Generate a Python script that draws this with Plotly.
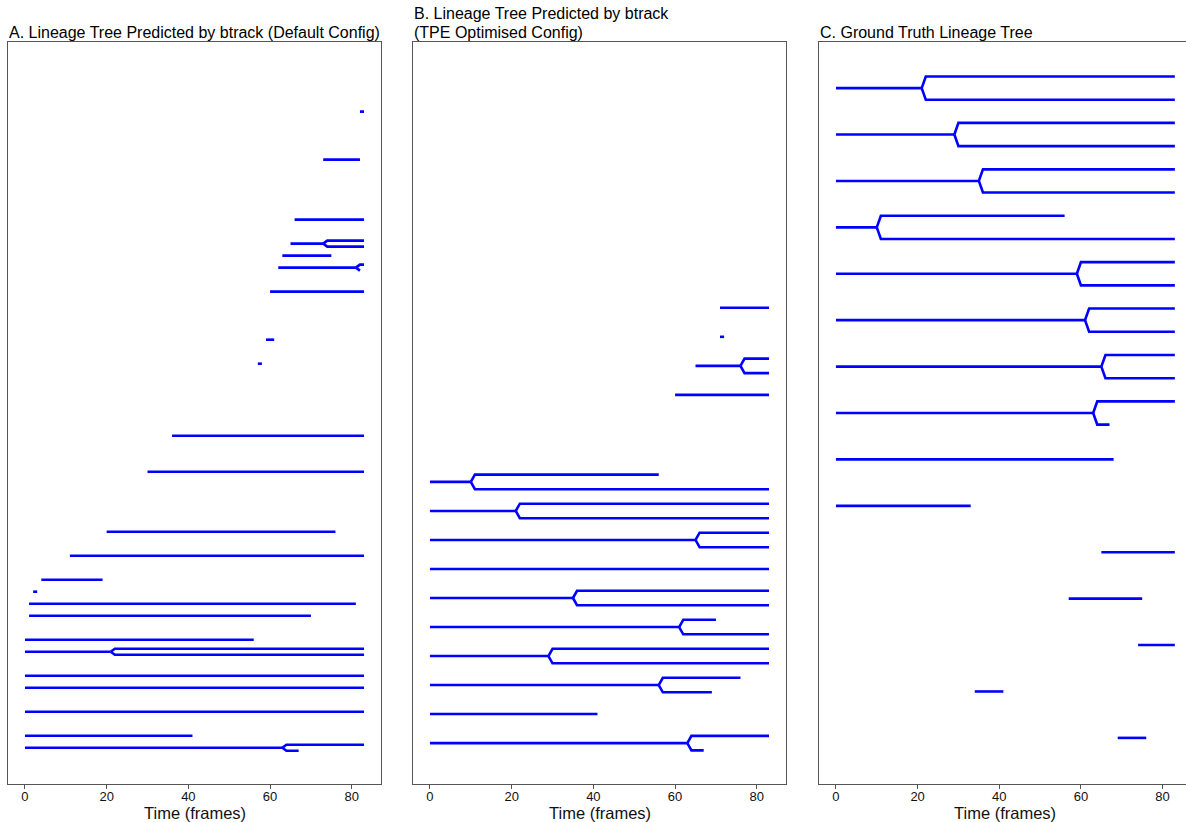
import plotly.graph_objects as go

# ---------------- data ----------------
# Each panel: one entry per root track.
# rows: vertical slot (0 = bottom), start/end: frames of the root track,
# up_end / down_end: last frame of the upper / lower daughter (None = no daughter).

A_rows     = [0, 1, 3, 5, 6, 8, 9, 11, 12, 13, 14, 16, 18, 23, 26, 32, 34, 38, 40, 41, 42, 44, 49, 53]
A_start    = [0, 0, 0, 0, 0, 0, 0, 1, 1, 2, 4, 11, 20, 30, 36, 57, 59, 60, 62, 63, 65, 66, 73, 82]
A_end      = [63, 41, 83, 83, 83, 21, 56, 70, 81, 3, 19, 83, 76, 83, 83, 58, 61, 83, 81, 75, 73, 83, 82, 83]
A_up_end   = [83, None, None, None, None, 83, None, None, None, None, None, None, None, None, None,
              None, None, None, 83, None, 83, None, None, None]
A_down_end = [67, None, None, None, None, 83, None, None, None, None, None, None, None, None, None,
              None, None, None, 82, None, 83, None, None, None]

B_rows     = [0, 1, 2, 3, 4, 5, 6, 7, 8, 9, 12, 13, 14, 15]
B_start    = [0, 0, 0, 0, 0, 0, 0, 0, 0, 0, 60, 65, 71, 71]
B_end      = [63, 41, 56, 29, 61, 35, 83, 65, 21, 10, 83, 76, 72, 83]
B_up_end   = [83, None, 76, 83, 70, 83, None, 83, 83, 56, None, 83, None, None]
B_down_end = [67, None, 69, 83, 83, 83, None, 83, 83, 83, None, 83, None, None]

C_rows     = [14, 13, 12, 11, 10, 9, 8, 7, 6, 5, 4, 3, 2, 1, 0]
C_start    = [0, 0, 0, 0, 0, 0, 0, 0, 0, 0, 65, 57, 74, 34, 69]
C_end      = [21, 29, 35, 10, 59, 61, 65, 63, 68, 33, 83, 75, 83, 41, 76]
C_up_end   = [83, 83, 83, 56, 83, 83, 83, 83, None, None, None, None, None, None, None]
C_down_end = [83, 83, 83, 83, 83, 83, 83, 67, None, None, None, None, None, None, None]

titles = [["A. Lineage Tree Predicted by btrack (Default Config)"],
          ["(TPE Optimised Config)", "B. Lineage Tree Predicted by btrack"],
          ["C. Ground Truth Lineage Tree"]]
x_ticks = [0, 20, 40, 60, 80]
x_label = "Time (frames)"

# ---------------- layout geometry ----------------
W, H = 1186, 822
DAUGHTER_OFFSET = 0.25
FONT = "Liberation Sans, Arial, Helvetica, sans-serif"
BLUE = "#0000ff"
FRAME = "#555555"


def px_x(p):
    return p / W


def px_y(p):
    return (H - p) / H


x_px = [(8, 381), (413, 786), (819, 1192)]
x_dom = [(px_x(a), min(1.0, px_x(b))) for a, b in x_px]
y_dom = (px_y(784.3), px_y(41.7))
x_rng = [(-4.15, 87.15), (-4.15, 87.15), (-4.15, 85.73)]
y_rng = [(-3.05, 58.83), (-1.42, 24.17), (-1.0, 15.0)]


def build(rows, starts, ends, up_ends, down_ends):
    xs, ys = [], []
    for r, s, e, ue, de in zip(rows, starts, ends, up_ends, down_ends):
        xs += [s, e, None]
        ys += [r, r, None]
        for ce, sign in ((ue, 1), (de, -1)):
            if ce is None:
                continue
            cy = r + sign * DAUGHTER_OFFSET
            xs += [e, e + 1, ce, None]
            ys += [r, cy, cy, None]
    return xs, ys


panels = [
    (A_rows, A_start, A_end, A_up_end, A_down_end),
    (B_rows, B_start, B_end, B_up_end, B_down_end),
    (C_rows, C_start, C_end, C_up_end, C_down_end),
]

fig = go.Figure()
layout = dict(
    width=W, height=H,
    margin=dict(l=0, r=0, t=0, b=0),
    paper_bgcolor="white", plot_bgcolor="white",
    showlegend=False,
    font=dict(family=FONT, color="#000000"),
    annotations=[],
)

for i, p in enumerate(panels):
    xs, ys = build(*p)
    sfx = "" if i == 0 else str(i + 1)
    fig.add_trace(go.Scatter(
        x=xs, y=ys, mode="lines",
        line=dict(color=BLUE, width=2.6),
        xaxis="x" + sfx, yaxis="y" + sfx,
        hoverinfo="skip",
    ))
    layout["xaxis" + sfx] = dict(
        domain=list(x_dom[i]), range=list(x_rng[i]), anchor="y" + sfx,
        showgrid=False, zeroline=False,
        showline=True, linecolor=FRAME, linewidth=1, mirror=True,
        ticks="outside", ticklen=3.5, tickwidth=1, tickcolor=FRAME,
        tickvals=x_ticks, ticktext=[str(t) for t in x_ticks],
        ticklabelstandoff=-3,
        tickfont=dict(size=13, family=FONT, color="#111111"),
    )
    layout["yaxis" + sfx] = dict(
        domain=list(y_dom), range=list(y_rng[i]), anchor="x" + sfx,
        showgrid=False, zeroline=False,
        showline=True, linecolor=FRAME, linewidth=1, mirror=(i < 2),
        showticklabels=False, ticks="",
    )
    for k, t in enumerate(titles[i]):
        layout["annotations"].append(dict(
            text=t, xref="paper", yref="paper",
            x=x_dom[i][0], y=y_dom[1], xanchor="left", yanchor="bottom",
            align="left", showarrow=False, borderpad=0, yshift=18.3 * k,
            font=dict(size=16, family=FONT, color="#000000"),
        ))
    layout["annotations"].append(dict(
        text=x_label, xref="paper", yref="paper",
        x=px_x((x_px[i][0] + x_px[i][1]) / 2), y=px_y(813),
        xanchor="center", yanchor="middle", showarrow=False, borderpad=0,
        font=dict(size=16.5, family=FONT, color="#111111"),
    ))

fig.update_layout(**layout)
fig.write_html(
    "out.html",
    config={"displayModeBar": False, "staticPlot": True},
    post_script="document.body.style.margin='0';document.body.style.overflow='hidden';",
)
